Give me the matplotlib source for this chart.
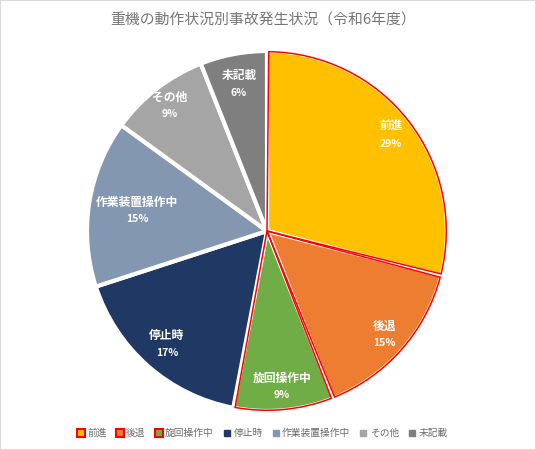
import numpy as np
import matplotlib
matplotlib.use('Agg')
import matplotlib.pyplot as plt
from matplotlib.patches import Wedge, Rectangle
from matplotlib.lines import Line2D

plt.rcParams['font.family'] = ['Noto Sans CJK JP', 'DejaVu Sans']

categories = ['前進', '後退', '旋回操作中', '停止時', '作業装置操作中', 'その他', '未記載']
values = [29, 15, 9, 17, 15, 9, 6]
colors = ['#FFC000', '#ED7D31', '#70AD47', '#203864', '#8497B0', '#A5A5A5', '#7F7F7F']
red_edge = [True, True, True, False, False, False, False]
label_dist = [0.87, 0.87, 0.87, 0.84, 0.73, 0.88, 0.83]
title = '重機の動作状況別事故発生状況（令和6年度）'

fig = plt.figure(figsize=(5.36, 4.5), dpi=100)
fig.patches.append(Rectangle((0, 0), 1, 1, transform=fig.transFigure,
                             fill=False, edgecolor='#D9D9D9', linewidth=1.5))

ax = fig.add_axes([87 / 536, 39 / 450, 360 / 536, 360 / 450])
wedges, _ = ax.pie(values, colors=colors, startangle=90, counterclock=False,
                   wedgeprops=dict(edgecolor='white', linewidth=3))
ax.set_xlim(-1, 1)
ax.set_ylim(-1, 1)
ax.set_aspect('equal')

# red outlines inside the white gaps
for w, red in zip(wedges, red_edge):
    if red:
        ax.add_patch(Wedge(w.center, w.r - 0.004, w.theta1 + 0.55, w.theta2 - 0.55,
                           facecolor='none', edgecolor='#FF0000', linewidth=1.1))

# labels
off = 8.5 / 180
for w, name, v, d in zip(wedges, categories, values, label_dist):
    ang = np.deg2rad((w.theta1 + w.theta2) / 2)
    x = d * np.cos(ang)
    y = d * np.sin(ang)
    ax.text(x, y + off, name, ha='center', va='center', color='white',
            fontsize=8.5, fontweight='bold')
    ax.text(x, y - off, f'{v}%', ha='center', va='center', color='white',
            fontsize=7.5, fontweight='bold')

fig.text(0.49, 1 - 20 / 450, title, ha='center', va='center',
         color='#767676', fontsize=10.7)

handles = []
for c, red in zip(colors, red_edge):
    if red:
        handles.append(Line2D([], [], linestyle='none', marker='s', markersize=6,
                              markerfacecolor=c, markeredgecolor='#FF0000',
                              markeredgewidth=1.5))
    else:
        handles.append(Line2D([], [], linestyle='none', marker='s', markersize=4,
                              markerfacecolor=c, markeredgecolor=c))
leg = fig.legend(handles, categories, loc='center', ncol=7,
                 bbox_to_anchor=(0.49, 17 / 450), frameon=False, fontsize=7,
                 handlelength=0.7, handletextpad=0.3, columnspacing=1.0)
for t in leg.get_texts():
    t.set_color('#6B6B6B')

fig.savefig('out.png', dpi=100)
